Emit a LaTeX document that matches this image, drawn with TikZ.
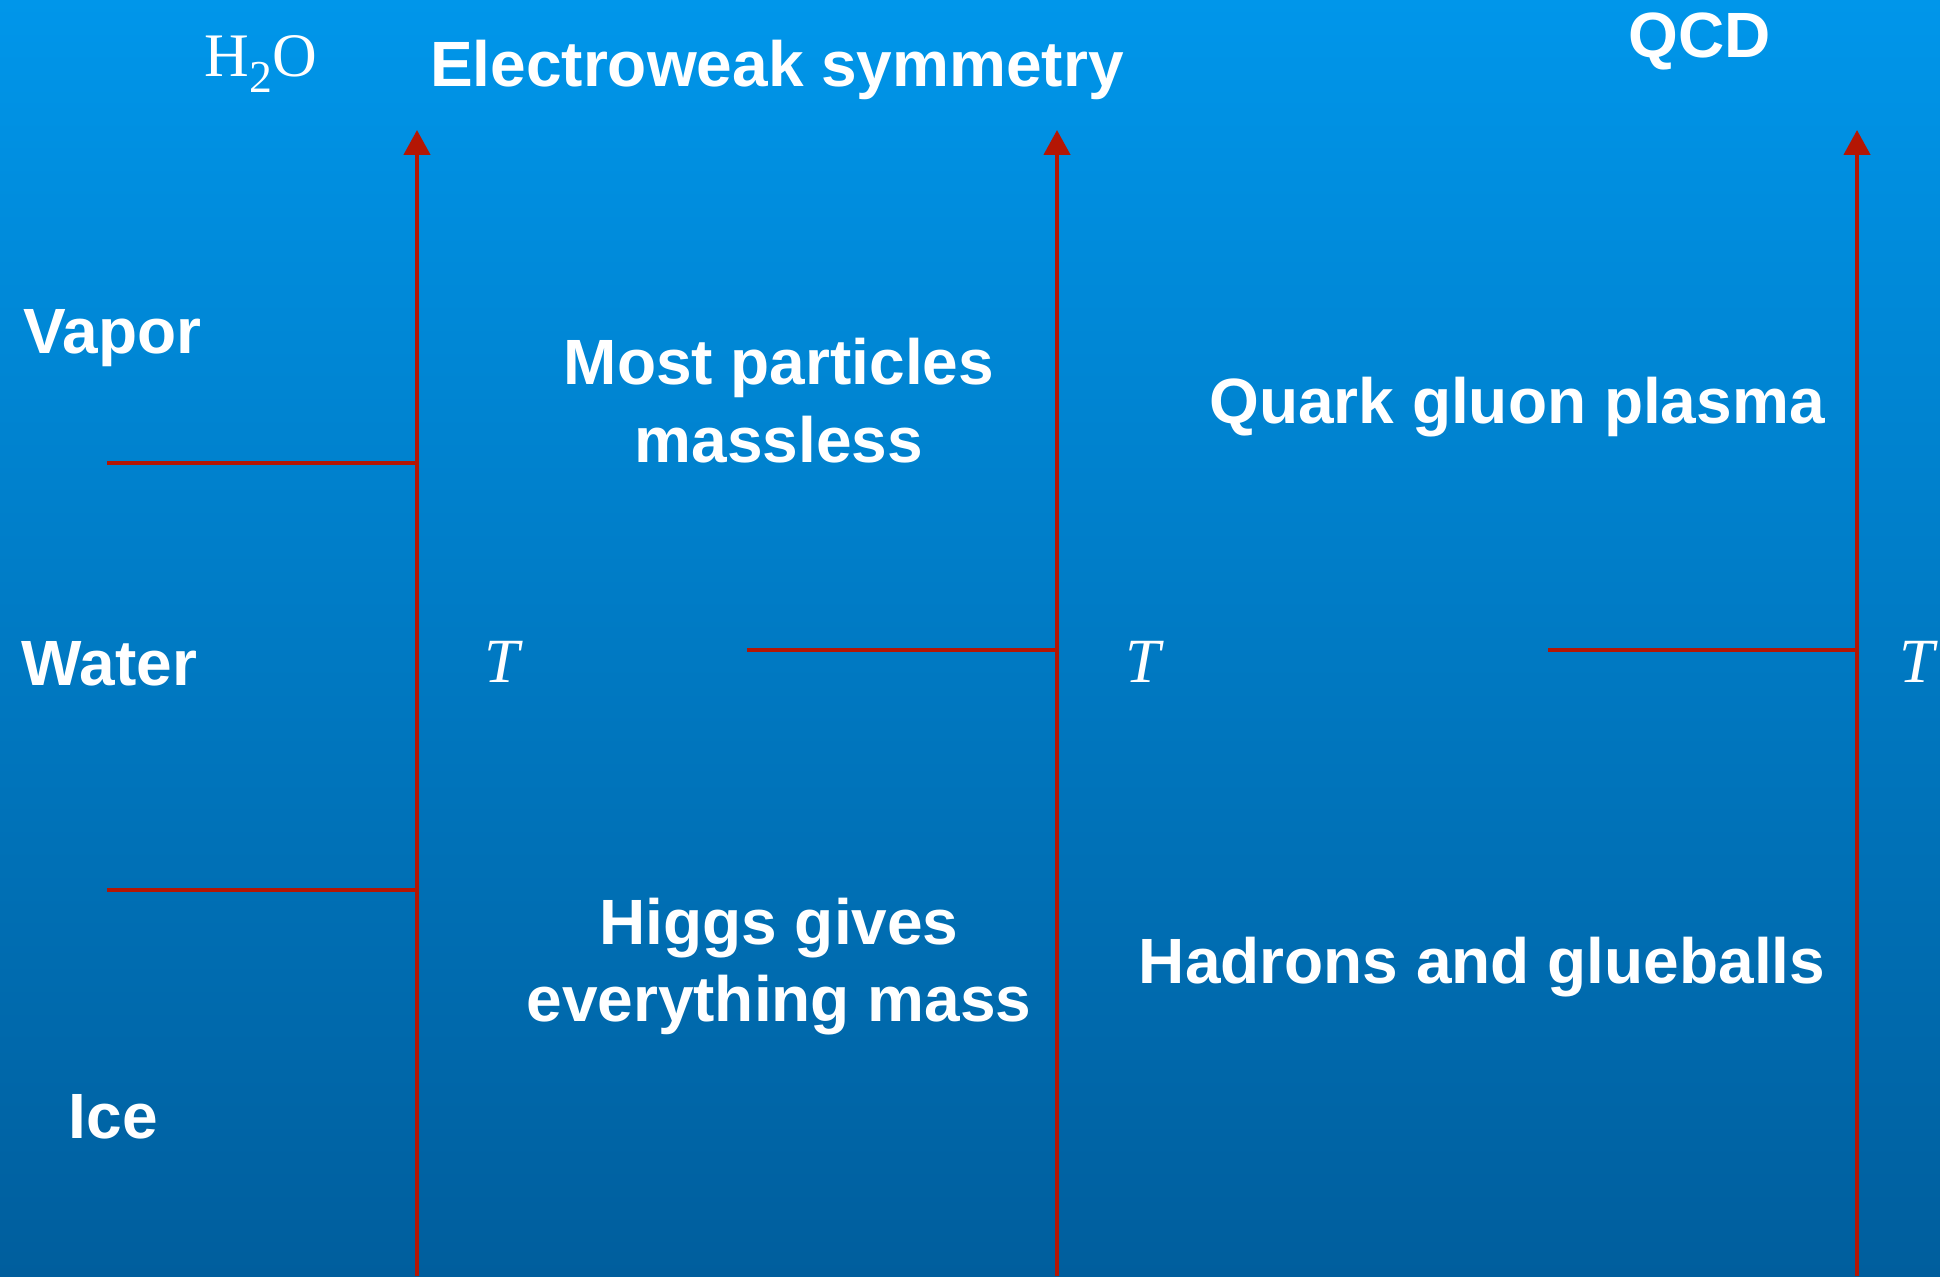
\documentclass[tikz,border=0pt]{standalone}
\usepackage{fontspec}
\setmainfont{Liberation Sans}
\newfontfamily\serifrm{Liberation Serif}
\usetikzlibrary{arrows.meta}
\definecolor{bgtop}{RGB}{0,150,234}
\definecolor{bgbot}{RGB}{0,94,157}
\definecolor{axisred}{RGB}{180,22,4}
\begin{document}
\begin{tikzpicture}[x=0.01cm,y=0.01cm,
  lbl/.style={font=\fontsize{18.2pt}{22pt}\selectfont\bfseries,text=white,inner sep=0pt},
  sym/.style={font=\fontsize{17.9pt}{22pt}\selectfont\serifrm\itshape,text=white,inner sep=0pt},
  chem/.style={font=\fontsize{17.6pt}{22pt}\selectfont\serifrm,text=white,inner sep=0pt},
  axisline/.style={draw=axisred,line width=1.25pt,-{Triangle[width=7.4pt,length=7.1pt]}},
  boundary/.style={draw=axisred,line width=1.4pt}]
\shade[top color=bgtop,bottom color=bgbot] (0,0) rectangle (1940,-1276);
\useasboundingbox (0,0) rectangle (1940,-1276);

% axes
\coordinate (A1b) at (417,-1276); \coordinate (A1t) at (417,-130);
\coordinate (A2b) at (1057,-1276); \coordinate (A2t) at (1057,-130);
\coordinate (A3b) at (1857,-1276); \coordinate (A3t) at (1857,-130);
\draw[axisline] (A1b) -- (A1t);
\draw[axisline] (A2b) -- (A2t);
\draw[axisline] (A3b) -- (A3t);

% phase boundaries
\coordinate (V0) at (107,-463); \coordinate (V1) at (417,-463);
\coordinate (I0) at (107,-890); \coordinate (I1) at (417,-890);
\coordinate (E0) at (747,-650); \coordinate (E1) at (1057,-650);
\coordinate (Q0) at (1548,-650); \coordinate (Q1) at (1857,-650);
\draw[boundary] (V0) -- (V1);
\draw[boundary] (I0) -- (I1);
\draw[boundary] (E0) -- (E1);
\draw[boundary] (Q0) -- (Q1);

% titles
\node[chem,anchor=base west] (h2o) at (204,-77) {H\raisebox{-4.3pt}{\fontsize{13pt}{15pt}\selectfont 2}O};
\node[lbl,anchor=base] (ew) at (777,-87) {Electroweak symmetry};
\node[lbl,anchor=base] (qcd) at (1700,-58) {QCD};

% water phases
\node[lbl,anchor=base west] (vapor) at (23,-353) {Vapor};
\node[lbl,anchor=base west] (water) at (21,-685) {Water};
\node[lbl,anchor=base west] (ice) at (68,-1138) {Ice};

% electroweak phases
\node[lbl,anchor=base] (mp1) at (779,-384) {Most particles};
\node[lbl,anchor=base] (mp2) at (779,-462) {massless};
\node[lbl,anchor=base] (hg1) at (779,-944) {Higgs gives};
\node[lbl,anchor=base] (hg2) at (779,-1021) {everything mass};

% QCD phases
\node[lbl,anchor=base] (qgp) at (1517,-423) {Quark gluon plasma};
\node[lbl,anchor=base] (had) at (1482,-983) {Hadrons and glueballs};

% temperature labels
\node[sym,anchor=base] (T1) at (502,-682) {T};
\node[sym,anchor=base] (T2) at (1143,-682) {T};
\node[sym,anchor=base] (T3) at (1917,-682) {T};
\end{tikzpicture}
\end{document}
